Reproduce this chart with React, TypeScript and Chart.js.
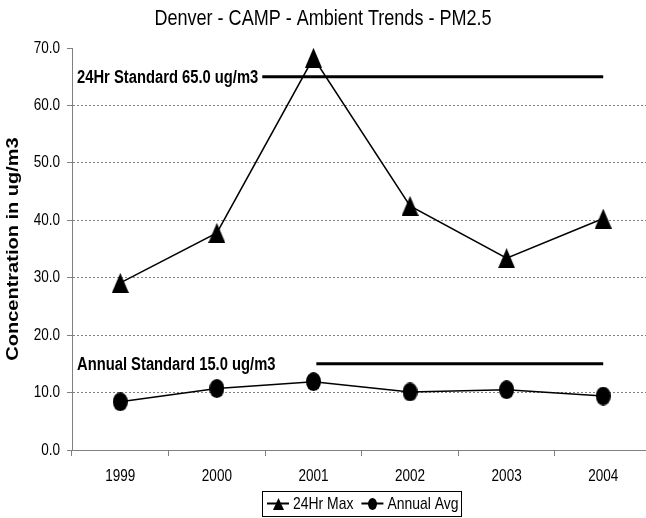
import { useEffect, useRef } from 'react';
import { Chart, registerables } from 'chart.js';

Chart.register(...registerables);

const years = ['1999', '2000', '2001', '2002', '2003', '2004'];
const max24Hr = [29.1, 37.8, 68.3, 42.5, 33.4, 40.3];
const annualAvg = [8.4, 10.7, 11.9, 10.1, 10.5, 9.4];
const seriesNames = ['24Hr Max', 'Annual Avg'];
const yMin = 0;
const yMax = 70;
const yStep = 10;
const standardValues = [65.0, 15.0];
const standardLabels = ['24Hr Standard 65.0 ug/m3', 'Annual Standard 15.0 ug/m3'];
const standardFrom = [1.47, 2.03];
const standardTo = [5, 5];
const chartTitle = 'Denver - CAMP - Ambient Trends - PM2.5';
const yAxisTitle = 'Concentration in ug/m3';

const SANS = "'Liberation Sans', Arial, sans-serif";
const NARROW_X = 0.82;

function makeTriangle(w: number, h: number) {
  const c = document.createElement('canvas');
  c.width = w;
  c.height = h;
  const g = c.getContext('2d')!;
  g.fillStyle = '#000';
  g.beginPath();
  g.moveTo(w / 2, 0);
  g.lineTo(w, h);
  g.lineTo(0, h);
  g.closePath();
  g.fill();
  return c;
}

function makeEllipse(w: number, h: number) {
  const c = document.createElement('canvas');
  c.width = w;
  c.height = h;
  const g = c.getContext('2d')!;
  g.fillStyle = '#000';
  g.beginPath();
  g.ellipse(w / 2, h / 2, w / 2, h / 2, 0, 0, Math.PI * 2);
  g.fill();
  return c;
}

function narrowText(
  ctx: CanvasRenderingContext2D,
  text: string,
  x: number,
  y: number,
  font: string,
  align: CanvasTextAlign,
) {
  ctx.save();
  ctx.translate(x, y);
  ctx.scale(NARROW_X, 1);
  ctx.font = font;
  ctx.textAlign = align;
  ctx.textBaseline = 'middle';
  ctx.fillStyle = '#000';
  ctx.fillText(text, 0, 0);
  ctx.restore();
}

function narrowWidth(ctx: CanvasRenderingContext2D, text: string, font: string) {
  ctx.save();
  ctx.font = font;
  const w = ctx.measureText(text).width * NARROW_X;
  ctx.restore();
  return w;
}

export default function App() {
  const ref = useRef<HTMLCanvasElement>(null);

  useEffect(() => {
    const canvas = ref.current!;
    const tri = makeTriangle(17, 20);
    const ell = makeEllipse(15, 19);
    const triSmall = makeTriangle(11, 12);
    const ellSmall = makeEllipse(9, 12);

    const tickFontStr = `16.5px ${SANS}`;

    const decorations = {
      id: 'decorations',
      afterDraw(chart: any) {
        const { ctx, chartArea, scales } = chart;
        ctx.save();
        ctx.fillStyle = '#000';

        // Title
        narrowText(ctx, chartTitle, 323, 19, `22px ${SANS}`, 'center');

        // Y axis title (stretched along its length)
        ctx.save();
        ctx.translate(18, (chartArea.top + chartArea.bottom) / 2);
        ctx.rotate(-Math.PI / 2);
        ctx.scale(1.25, 1);
        ctx.font = `bold 16px ${SANS}`;
        ctx.textAlign = 'center';
        ctx.textBaseline = 'alphabetic';
        ctx.fillText(yAxisTitle, 0, 0);
        ctx.restore();

        // Y tick labels
        scales.y.ticks.forEach((t: any, i: number) => {
          const y = scales.y.getPixelForTick(i);
          narrowText(ctx, Number(t.value).toFixed(1), chartArea.left - 12, y, tickFontStr, 'right');
        });

        // X tick labels
        years.forEach((lab, i) => {
          const x = scales.x.getPixelForValue(i);
          narrowText(ctx, lab, x, chartArea.bottom + 26, tickFontStr, 'center');
        });

        // Standard labels
        standardValues.forEach((v, i) => {
          const y = scales.y.getPixelForValue(v);
          narrowText(ctx, standardLabels[i], chartArea.left + 5, y + 1, `bold 18px ${SANS}`, 'left');
        });

        // Legend
        const lf = `17px ${SANS}`;
        const w1 = narrowWidth(ctx, seriesNames[0], lf);
        const w2 = narrowWidth(ctx, seriesNames[1], lf);
        const pad = 5, sym = 22, gap = 4, between = 8;
        const total = pad + sym + gap + w1 + between + sym + gap + w2 + 3;
        const lx = Math.round((chartArea.left + chartArea.right) / 2 - total / 2);
        const ly0 = 491, ly1 = 516;
        const my = (ly0 + ly1) / 2;
        ctx.strokeStyle = '#000';
        ctx.lineWidth = 1;
        ctx.strokeRect(lx + 0.5, ly0 + 0.5, Math.round(total), ly1 - ly0);
        let x = lx + pad;
        const syms = [triSmall, ellSmall];
        const widths = [w1, w2];
        for (let i = 0; i < 2; i++) {
          ctx.strokeStyle = '#000';
          ctx.lineWidth = 2;
          ctx.beginPath();
          ctx.moveTo(x, my);
          ctx.lineTo(x + sym, my);
          ctx.stroke();
          const s = syms[i];
          ctx.drawImage(s, Math.round(x + sym / 2 - s.width / 2), Math.round(my - s.height / 2));
          x += sym + gap;
          narrowText(ctx, seriesNames[i], x, my + 1, lf, 'left');
          x += widths[i] + between;
        }
        ctx.restore();
      },
    };

    const hidden = 'rgba(0,0,0,0)';

    const chart = new Chart(canvas, {
      type: 'line',
      data: {
        labels: years,
        datasets: [
          ...standardValues.map((v, i) => ({
            label: standardLabels[i],
            data: [
              { x: standardFrom[i], y: v },
              { x: standardTo[i], y: v },
            ],
            xAxisID: 'x2',
            yAxisID: 'y',
            borderColor: '#000',
            borderWidth: 3,
            pointRadius: 0,
            clip: false as any,
            order: 2,
          })),
          {
            label: seriesNames[0],
            data: max24Hr,
            xAxisID: 'x',
            yAxisID: 'y',
            borderColor: '#000',
            borderWidth: 1.5,
            pointStyle: tri as any,
            pointRadius: 5,
            tension: 0,
            clip: false as any,
            order: 1,
          },
          {
            label: seriesNames[1],
            data: annualAvg,
            xAxisID: 'x',
            yAxisID: 'y',
            borderColor: '#000',
            borderWidth: 1.5,
            pointStyle: ell as any,
            pointRadius: 5,
            tension: 0,
            clip: false as any,
            order: 1,
          },
        ] as any,
      },
      options: {
        responsive: false,
        animation: false,
        devicePixelRatio: 1,
        layout: { padding: { top: 48, bottom: 38, left: 0, right: 0 } },
        plugins: {
          legend: { display: false },
          title: { display: false },
          tooltip: { enabled: false },
        },
        scales: {
          x: {
            type: 'category',
            offset: true,
            grid: {
              offset: true,
              drawOnChartArea: false,
              tickLength: 6,
              color: '#808080',
              tickColor: '#808080',
            },
            border: { color: '#808080', width: 1 },
            ticks: { font: { family: SANS, size: 10 }, color: hidden, padding: 2, maxRotation: 0, autoSkip: false },
            afterFit: (s: any) => {
              s.height = 30;
            },
          },
          x2: {
            type: 'linear',
            min: -0.5,
            max: years.length - 0.5,
            display: false,
          },
          y: {
            min: yMin,
            max: yMax,
            ticks: {
              stepSize: yStep,
              font: { family: SANS, size: 10 },
              color: hidden,
              padding: 7,
              callback: (v: any) => Number(v).toFixed(1),
            },
            grid: {
              color: (c: any) =>
                c.tick && (c.tick.value === yMax || c.tick.value === yMin) ? hidden : '#808080',
              tickColor: '#808080',
              tickLength: 5,
            },
            border: { color: '#808080', width: 1, dash: [2, 2] },
            afterFit: (s: any) => {
              s.width = 72;
            },
          },
        },
      } as any,
      plugins: [decorations],
    });

    return () => chart.destroy();
  }, []);

  return (
    <div
      style={{
        position: 'fixed',
        left: 0,
        top: 0,
        width: 646,
        height: 518,
        overflow: 'hidden',
        background: '#fff',
      }}
    >
      <canvas ref={ref} width={658} height={518} style={{ display: 'block', width: 658, height: 518 }} />
    </div>
  );
}
